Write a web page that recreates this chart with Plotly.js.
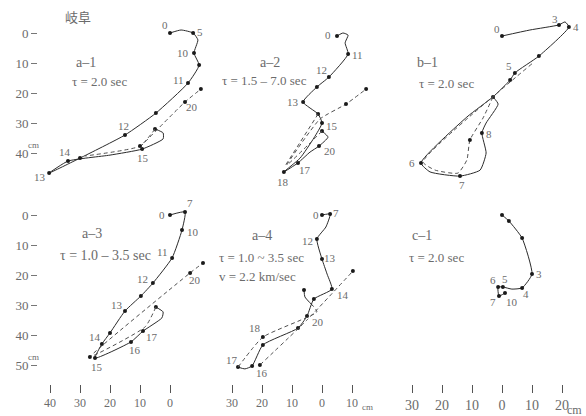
<!DOCTYPE html>
<html><head><meta charset="utf-8">
<script src="https://cdn.plot.ly/plotly-3.0.1.min.js"></script>
<style>html,body{margin:0;padding:0;background:#fff}#chart{width:586px;height:416px}</style>
</head><body><div id="chart"></div>
<script>
// ---- data (cm) ----  x: negative = left, y: positive = down
const a1X = [0, 3.7, 7.7, 9.3, 8, 9.7, 6, -4.7, -15, -30, -40.3, -34, -20, -9.3, -2.3, -2.3, -5];
const a1Y = [0, -1, 0, 2.3, 6.7, 10.7, 16.7, 26.7, 34, 41.7, 46.7, 42.7, 40.7, 38.7, 35.3, 33.3, 32];
const a1T = ['0','','5','','10','•','11','•','12','•','13','14','','15','','','•'];
const a1dX = [-5, -10, -28.3, null, -10, 5, 10.3];
const a1dY = [32, 37.7, 41, null, 38, 23, 18.7];
const a1dT = ['', '•', '', '', '', '20', '•'];

const a2X = [5, 7, 8.7, 7.7, 8.7, 2.3, -1.7, -6.3, -1.3, 0, -2.7, -7.3, -12.7, -8, -4, -1, 2, 0];
const a2Y = [1, 0, 0.7, 3.3, 7, 14.7, 18, 23, 27, 30, 35, 41.7, 46.3, 43.3, 39.7, 37.7, 34.7, 32.7];
const a2T = ['0','','','','11','12','•','13','•','15','','','18','17','','20','','•'];
const a2dX = [0, -11.7, -0.7, 8, 14.7, null, -1.3, -12.3];
const a2dY = [32.7, 44, 28.7, 23.7, 18.7, null, 27, 44.3];
const a2dT = ['', '', '', '•', '•', '', '', ''];

const b1X = [0, 9.3, 19, 21, 22.3, 12.3, 4.3, 2.7, -3, -11.7, -27, -24, -14, -7.3, -5.3, -6.7, -5.3, -1.3, -3];
const b1Y = [1, -1, -2.7, -3.7, -2, 7.7, 13.3, 15.7, 21.3, 28, 43.3, 46.3, 47.7, 45.7, 40, 33.3, 30, 23.7, 21.3];
const b1T = ['0','','3','','4','•','5','•','•','','6','','7','','','8','','',''];
const b1dX = [-3, -6.3, -10.7, -11.7, -14.7, -22.3, -26.3, 10.3];
const b1dY = [21.3, 28.3, 35.7, 42.3, 46.7, 45.7, 43, 10];
const b1dT = ['', '', '•', '', '', '', '', ''];

const a3X = [0, 5, 4, 0.7, -5.7, -9.7, -15, -20, -22.7, -25, -13, -9, -2.7, -2.3, -4.7];
const a3Y = [0, -1, 5, 14.3, 22.7, 27, 32, 39.3, 43, 47.7, 42.3, 38.7, 34.3, 32.3, 30.7];
const a3T = ['0','7','10','11','12','•','13','•','14','15','16','17','','','•'];
const a3dX = [-4.7, -8.3, -26.7, 6.7, 11];
const a3dY = [30.7, 37.3, 47.3, 19.3, 16];
const a3dT = ['', '', '•', '20', '•'];

const a4X = [0, 2.7, 1.3, -1.7, 0, 1.7, 3.3, -2.7, -5, -8, -19.7, -23.3, -25.7, -28, null, -3, -5.7, -6];
const a4Y = [0, -0.3, 4, 8, 14.7, 19.7, 24.7, 28, 33.7, 37.7, 43.3, 50.3, 51.3, 50.7, null, 30.3, 27.3, 25];
const a4T = ['0','7','','12','13','','14','•','20','•','•','16','','17','','','','•'];
const a4dX = [-28, -19.7, -1.7, -3, null, -20.7, -5, 10.3];
const a4dY = [50.7, 40.7, 32.3, 30.3, null, 50, 35, 18.7];
const a4dT = ['', '18', '', '', '', '•', '', '•'];

const c1X = [0, 2.3, 6.7, 10, 6.7, 3.3, 0.3, -1.3, -1, 1];
const c1Y = [0, 2, 7.7, 19.7, 24.3, 24.7, 24, 24, 27, 26];
const c1T = ['•','•','•','3','4','','5','6','7','10'];

const yTopTicks = [0, 10, 20, 30, 40];
const yBotTicks = [0, 10, 20, 30, 40, 50];
const x1Ticks = [-40, -30, -20, -10, 0];
const x2Ticks = [-30, -20, -10, 0, 10];
const x3Ticks = [-30, -20, -10, 0, 10, 20];
const tickLabel = v => String(Math.abs(v));

// ---- styling / layout ----
const W = 586, H = 416, S = 3.0;
const FONT = 'Liberation Serif, DejaVu Serif, serif';
const TXT = '#6b6b6b', LINE = '#2b2b2b', DASHC = '#505050';
const px = x => x / W, py = y => 1 - y / H;

const offs = {
  a1: {'0':[-5,-8],'5':[7,-1],'10':[-11,0],'11':[-10,-3],'12':[-2,-9],'14':[-3,-9],'13':[-9,4],'15':[1,9],'20':[7,5]},
  a2: {'0':[-9,-1],'11':[9,1],'12':[-7,-7],'13':[-10,0],'15':[10,3],'20':[11,5],'17':[7,7],'18':[-1,10]},
  b1: {'0':[-5,-7],'3':[-4,-6],'4':[7,0],'5':[-6,-7],'6':[-9,0],'7':[2,9],'8':[7,1]},
  a3: {'0':[-8,0],'7':[5,-9],'10':[11,2],'11':[-10,-6],'12':[-10,-4],'13':[-8,-6],'14':[-7,-7],'15':[2,9],'16':[4,8],'17':[9,6],'20':[5,7]},
  a4: {'0':[-6,0],'7':[6,-1],'12':[-9,2],'13':[8,-1],'14':[11,6],'20':[11,6],'18':[-8,-9],'17':[-6,-7],'16':[10,7]},
  c1: {'3':[7,0],'4':[4,6],'5':[2,-8],'6':[-5,-7],'7':[-6,6],'10':[7,9]}
};

const traces = [], ann = [];
function addPath(xa, ya, X, Y, T, dashed, off) {
  traces.push({type:'scatter', mode:'lines', x:X, y:Y, xaxis:xa, yaxis:ya, connectgaps:false, hoverinfo:'skip',
    line:{color: dashed ? DASHC : LINE, width: 1, dash: dashed ? '4px,3px' : 'solid', shape:'spline', smoothing:0.5}});
  const mx = [], my = [];
  T.forEach((t, i) => {
    if (t === '' || X[i] == null) return;
    mx.push(X[i]); my.push(Y[i]);
    if (t !== '•') {
      const o = off[t] || [0, 0];
      ann.push({xref:xa, yref:ya, x:X[i], y:Y[i], text:t, showarrow:false, xshift:o[0], yshift:-o[1],
        font:{family:FONT, size:11, color:TXT}});
    }
  });
  traces.push({type:'scatter', mode:'markers', x:mx, y:my, xaxis:xa, yaxis:ya, hoverinfo:'skip', cliponaxis:false,
    marker:{size:4, color:'#1a1a1a'}});
}
addPath('x','y',a1X,a1Y,a1T,false,offs.a1);   addPath('x','y',a1dX,a1dY,a1dT,true,offs.a1);
addPath('x2','y',a2X,a2Y,a2T,false,offs.a2);  addPath('x2','y',a2dX,a2dY,a2dT,true,offs.a2);
addPath('x3','y',b1X,b1Y,b1T,false,offs.b1);  addPath('x3','y',b1dX,b1dY,b1dT,true,offs.b1);
addPath('x','y2',a3X,a3Y,a3T,false,offs.a3);  addPath('x','y2',a3dX,a3dY,a3dT,true,offs.a3);
addPath('x2','y2',a4X,a4Y,a4T,false,offs.a4); addPath('x2','y2',a4dX,a4dY,a4dT,true,offs.a4);
addPath('x3','y2',c1X,c1Y,c1T,false,offs.c1);

function note(text, x, y, size, anchor, fam) {
  ann.push({xref:'paper', yref:'paper', x:px(x), y:py(y), text:text, showarrow:false, xanchor:anchor||'left', yanchor:'middle',
    font:{family:fam||FONT, size:size, color:TXT}});
}
note('岐阜', 78, 17, 13, 'center', 'Noto Sans CJK JP, sans-serif');
note('a–1', 74, 62, 14); note('τ = 2.0 sec', 70, 82, 13);
note('a–2', 258, 62, 14); note('τ = 1.5 – 7.0 sec', 220, 80, 13);
note('b–1', 415, 62, 14); note('τ = 2.0 sec', 417, 83, 13);
note('a–3', 80, 233, 14); note('τ = 1.0 – 3.5 sec', 58, 255, 14);
note('a–4', 250, 235, 14); note('τ = 1.0 ~ 3.5 sec', 217, 257, 13); note('v = 2.2 km/sec', 217, 276, 13);
note('c–1', 410, 235, 14); note('τ = 2.0 sec', 407, 257, 13);
note('cm', 33, 145, 9, 'center'); note('cm', 33, 357, 9, 'center');
note('cm', 360, 407, 9, 'left'); note('cm', 584, 410, 12, 'right');

function xax(x0, L, R, vals, fs) {
  return {domain:[px(L), px(R)], range:[(L - x0) / S, (R - x0) / S], anchor:'y2', side:'bottom',
    showgrid:false, zeroline:false, showline:false, ticks:'outside', ticklen:8, tickwidth:1, tickcolor:'#555',
    tickvals:vals, ticktext:vals.map(tickLabel), tickfont:{family:FONT, size:fs, color:TXT}, fixedrange:true};
}
function yax(y0, T, B, vals) {
  return {domain:[py(B), py(T)], range:[(B - y0) / S, (T - y0) / S], anchor:'free', position:px(37), side:'left',
    showgrid:false, zeroline:false, showline:false, ticks:'outside', ticklen:6, tickwidth:1, tickcolor:'#777',
    tickvals:vals, ticktext:vals.map(tickLabel), tickfont:{family:FONT, size:13, color:TXT}, fixedrange:true};
}
const layout = {
  width:W, height:H, margin:{l:0, r:0, t:0, b:0}, showlegend:false,
  paper_bgcolor:'#fff', plot_bgcolor:'rgba(0,0,0,0)',
  xaxis: xax(170, 0, 234, x1Ticks, 12),
  xaxis2: xax(322, 190, 420, x2Ticks, 12),
  xaxis3: xax(502, 380, 586, x3Ticks, 14),
  yaxis: yax(33, 0, 200, yTopTicks),
  yaxis2: yax(215, 200, 384, yBotTicks),
  annotations: ann
};
Plotly.newPlot('chart', traces, layout, {staticPlot:true, displayModeBar:false});
</script></body></html>
